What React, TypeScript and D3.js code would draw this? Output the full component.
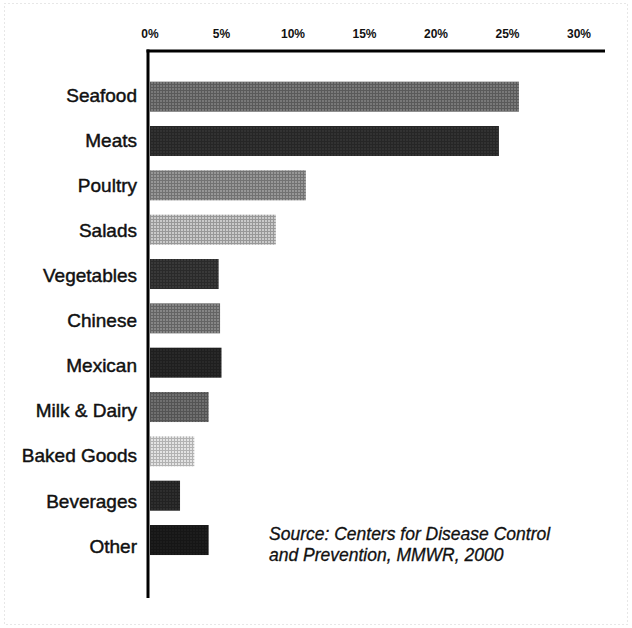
import React from "react";
import * as d3 from "d3";

const categories = [
  "Seafood",
  "Meats",
  "Poultry",
  "Salads",
  "Vegetables",
  "Chinese",
  "Mexican",
  "Milk & Dairy",
  "Baked Goods",
  "Beverages",
  "Other",
];
const values = [25.8, 24.4, 10.9, 8.8, 4.8, 4.9, 5.0, 4.1, 3.1, 2.1, 4.1];
const tickValues = [0, 5, 10, 15, 20, 25, 30];
const sourceLines = [
  "Source: Centers for Disease Control",
  "and Prevention, MMWR, 2000",
];

// styling (not data)
const barShades = [
  "#707070",
  "#2e2e2e",
  "#8c8c8c",
  "#bdbdbd",
  "#343434",
  "#7c7c7c",
  "#262626",
  "#686868",
  "#dcdcdc",
  "#2a2a2a",
  "#1a1a1a",
];

const W = 632;
const H = 628;

export default function App() {
  const x = d3.scaleLinear().domain([0, 30]).range([150, 579]);
  const y = d3
    .scaleBand<string>()
    .domain(categories)
    .range([74.5, 562.2])
    .paddingInner(0.323)
    .paddingOuter(0.1615);
  const labelY = d3.scalePoint<string>().domain(categories).range([95, 546]);

  const font = "'Liberation Sans', Arial, Helvetica, sans-serif";

  return (
    <svg
      width={W}
      height={H}
      viewBox={`0 0 ${W} ${H}`}
      style={{ position: "absolute", left: 0, top: 0, background: "#fff" }}
    >
      <defs>
        {barShades.map((c, i) => {
          const base = d3.color(c)!;
          const dark = base.darker(0.9).formatHex();
          const light = base.brighter(0.9).formatHex();
          return (
            <pattern
              key={i}
              id={`hatch${i}`}
              width={3}
              height={3}
              patternUnits="userSpaceOnUse"
            >
              <rect width={3} height={3} fill={c} />
              <path d="M0 0.5H3M0.5 0V3" stroke={dark} strokeWidth={1} opacity={0.7} />
              <rect x={1.5} y={1.5} width={1} height={1} fill={light} opacity={0.8} />
            </pattern>
          );
        })}
      </defs>

      <rect
        x={4.5}
        y={3.5}
        width={W - 9}
        height={H - 7}
        fill="none"
        stroke="#cfcfcf"
        strokeDasharray="1 3"
      />

      {/* tick labels */}
      {tickValues.map((t) => (
        <text
          key={t}
          x={x(t)}
          y={38}
          textAnchor="middle"
          fontFamily={font}
          fontWeight="bold"
          fontSize={12}
          fill="#111"
        >
          {`${t}%`}
        </text>
      ))}

      {/* bars */}
      {categories.map((c, i) => (
        <rect
          key={c}
          x={x(0)}
          y={y(c)}
          width={x(values[i]) - x(0)}
          height={y.bandwidth()}
          fill={`url(#hatch${i})`}
        />
      ))}

      {/* axes */}
      <line x1={146.5} x2={605} y1={51} y2={51} stroke="#000" strokeWidth={3} />
      <line x1={148} x2={148} y1={49.5} y2={598} stroke="#000" strokeWidth={3} />

      {/* category labels */}
      {categories.map((c) => (
        <text
          key={c}
          x={137}
          y={labelY(c)}
          dy="0.35em"
          textAnchor="end"
          fontFamily={font}
          fontSize={19}
          fill="#111"
          stroke="#111"
          strokeWidth={0.45}
        >
          {c}
        </text>
      ))}

      {/* source note */}
      {sourceLines.map((s, i) => (
        <text
          key={i}
          x={269}
          y={540 + i * 21}
          fontFamily={font}
          fontStyle="italic"
          fontSize={17.5}
          fill="#111"
          stroke="#111"
          strokeWidth={0.3}
        >
          {s}
        </text>
      ))}
    </svg>
  );
}
